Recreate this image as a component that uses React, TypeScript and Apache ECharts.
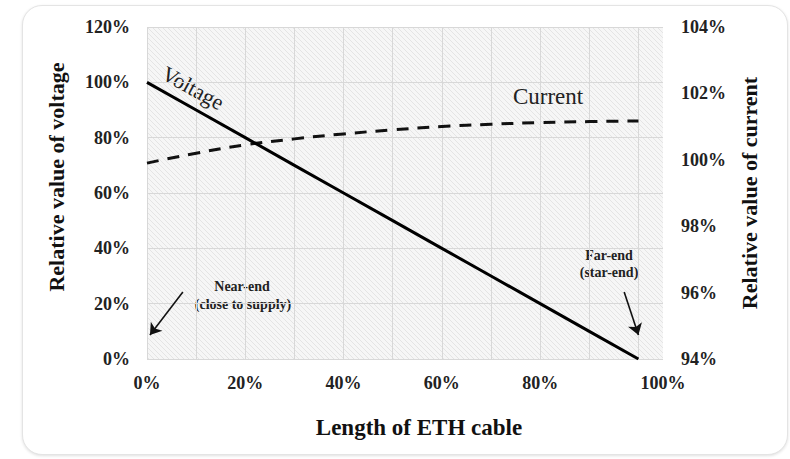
import React, { useEffect, useRef } from "react";
import * as echarts from "echarts";

// Cable position (% of length) where each sample is taken
const positions = [0, 10, 20, 30, 40, 50, 60, 70, 80, 90, 100];
// Relative supply voltage along the cable (%)
const voltageValues = [100, 90, 80, 70, 60, 50, 40, 30, 20, 10, 0];
// Relative current along the cable (%)
const currentValues = [99.9, 100.2, 100.45, 100.63, 100.78, 100.9, 101.0, 101.07, 101.12, 101.15, 101.17];

// Tick labels printed under the length axis
const xTickLabels: Record<number, string> = { 0: "0%", 20: "20%", 40: "40%", 60: "60%", 80: "80%", 105: "100%" };

// Arrow annotations: [from, to] in axis coordinates
const nearEndArrow = [[7.3, 24.2], [0.6, 8.7]];
const farEndArrow = [[97.1, 24.2], [100, 8.7]];

const SERIF = "'Liberation Serif', 'Times New Roman', serif";

function makeHatch(): HTMLCanvasElement {
  const c = document.createElement("canvas");
  c.width = 5;
  c.height = 5;
  const ctx = c.getContext("2d")!;
  ctx.fillStyle = "#f6f6f6";
  ctx.fillRect(0, 0, 5, 5);
  ctx.strokeStyle = "#e4e4e4";
  ctx.lineWidth = 1;
  ctx.beginPath();
  ctx.moveTo(-1, -1);
  ctx.lineTo(6, 6);
  ctx.stroke();
  return c;
}

export default function App() {
  const ref = useRef<HTMLDivElement>(null);

  useEffect(() => {
    if (!ref.current) return;
    const chart = echarts.init(ref.current, undefined, { renderer: "svg" });

    const tickLabel = {
      fontFamily: SERIF,
      fontWeight: "bold" as const,
      fontSize: 18,
      color: "#222",
    };

    const arrowLine = (pts: number[][]) => [
      { coord: pts[0], symbol: "none" },
      { coord: pts[1], symbol: "arrow" },
    ];

    const note = (text: string, x: number, y: number) => ({
      type: "text",
      x,
      y,
      style: { text, font: `bold 14px ${SERIF}`, fill: "#222", align: "center", verticalAlign: "middle" },
    });

    chart.setOption({
      animation: false,
      grid: {
        left: 147,
        right: 127,
        top: 27,
        bottom: 100,
        show: true,
        borderWidth: 0,
        backgroundColor: { image: makeHatch(), repeat: "repeat" } as any,
      },
      xAxis: {
        type: "value",
        min: 0,
        max: 105,
        interval: 10,
        axisLine: { show: false },
        axisTick: { show: false },
        splitLine: { show: true, showMaxLine: false, lineStyle: { color: "#d8d8d8", width: 1 } },
        axisLabel: {
          ...tickLabel,
          margin: 15,
          showMaxLabel: true,
          formatter: (v: number) => xTickLabels[v] ?? "",
        },
      },
      yAxis: [
        {
          type: "value",
          min: 0,
          max: 120,
          interval: 20,
          axisLine: { show: false },
          axisTick: { show: false },
          splitLine: { show: true, lineStyle: { color: "#d8d8d8", width: 1 } },
          axisLabel: { ...tickLabel, margin: 17, formatter: "{value}%" },
        },
        {
          type: "value",
          min: 94,
          max: 104,
          interval: 2,
          position: "right",
          axisLine: { show: false },
          axisTick: { show: false },
          splitLine: { show: false },
          axisLabel: { ...tickLabel, margin: 18, formatter: "{value}%" },
        },
      ],
      series: [
        {
          name: "Voltage",
          type: "line",
          yAxisIndex: 0,
          data: positions.map((p, i) => [p, voltageValues[i]]),
          showSymbol: false,
          lineStyle: { color: "#000", width: 3 },
          z: 3,
          markLine: {
            silent: true,
            symbolSize: 11,
            label: { show: false },
            lineStyle: { color: "#111", width: 1.6, type: "solid" },
            data: [arrowLine(nearEndArrow), arrowLine(farEndArrow)] as any,
          },
        },
        {
          name: "Current",
          type: "line",
          yAxisIndex: 1,
          data: positions.map((p, i) => [p, currentValues[i]]),
          showSymbol: false,
          smooth: true,
          lineStyle: { color: "#111", width: 3, type: [12, 9] },
          z: 2,
        },
      ],
      graphic: [
        {
          type: "text",
          x: 56,
          y: 177,
          rotation: Math.PI / 2,
          style: {
            text: "Relative value of voltage",
            font: `bold 22px ${SERIF}`,
            fill: "#111",
            align: "center",
            verticalAlign: "middle",
          },
        },
        {
          type: "text",
          x: 749,
          y: 193,
          rotation: Math.PI / 2,
          style: {
            text: "Relative value of current",
            font: `bold 22px ${SERIF}`,
            fill: "#111",
            align: "center",
            verticalAlign: "middle",
          },
        },
        {
          type: "text",
          x: 419,
          y: 427,
          style: {
            text: "Length of ETH cable",
            font: `bold 23px ${SERIF}`,
            fill: "#111",
            align: "center",
            verticalAlign: "middle",
          },
        },
        {
          type: "text",
          x: 193,
          y: 88,
          rotation: -0.5,
          style: {
            text: "Voltage",
            font: `22px ${SERIF}`,
            fill: "#222",
            align: "center",
            verticalAlign: "middle",
          },
        },
        {
          type: "text",
          x: 548,
          y: 96,
          style: {
            text: "Current",
            font: `23px ${SERIF}`,
            fill: "#222",
            align: "center",
            verticalAlign: "middle",
          },
        },
        note("Near-end", 242, 286),
        note("(close to supply)", 243, 304),
        note("Far-end", 609, 255),
        note("(star-end)", 609, 272),
      ],
    });

    return () => chart.dispose();
  }, []);

  return (
    <div style={{ position: "fixed", left: 0, top: 0, width: 790, height: 459, background: "#fff", overflow: "hidden" }}>
      <div
        style={{
          position: "absolute",
          left: 22,
          top: 5,
          width: 764,
          height: 448,
          background: "#fff",
          border: "1px solid #e4e4e4",
          borderRadius: 20,
          boxShadow: "0 1px 3px rgba(0,0,0,0.12)",
        }}
      />
      <div ref={ref} style={{ position: "absolute", left: 0, top: 0, width: 790, height: 459 }} />
    </div>
  );
}
